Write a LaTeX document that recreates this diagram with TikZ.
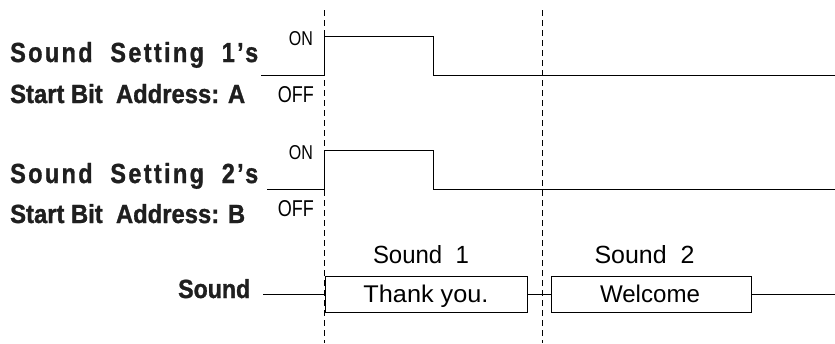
\documentclass[tikz,border=0pt]{standalone}
\usepackage{fontspec}
\setmainfont{Liberation Sans}
\newfontfamily\lblfont[FakeBold=1.2]{Liberation Sans Bold}
\usepackage{graphicx}
\newcommand{\fitbox}[3]{\resizebox{#1pt}{#2pt}{#3}}
\begin{document}
\begin{tikzpicture}[x=1pt,y=-1pt,
  sig/.style={line width=1.45pt},
  guide/.style={line width=1.4pt,dash pattern=on 6pt off 4pt},
  lbl/.style={inner sep=0pt,anchor=base west,text=black!88,font=\lblfont},
  thin/.style={inner sep=0pt,anchor=base east},
  thinc/.style={inner sep=0pt,anchor=base},
  sbox/.style={draw,line width=1.45pt,minimum height=36pt,inner sep=0pt,anchor=west}]
\useasboundingbox (0,0) rectangle (835,343);
% guides
\coordinate (g1t) at (324.5,10); \coordinate (g1b) at (324.5,343);
\coordinate (g2t) at (542.5,10); \coordinate (g2b) at (542.5,343);
\draw[guide] (g1t) -- (g1b);
\draw[guide] (g2t) -- (g2b);
% left labels
\node[lbl] (l1a) at (10,62) {\fitbox{248}{20}{\addfontfeatures{LetterSpace=10}Sound\ \ Setting\ \ 1’s}};
\node[lbl] (l1b) at (10,103) {\fitbox{235}{19}{Start Bit\ \ Address: A}};
\node[lbl] (l2a) at (10,183) {\fitbox{248}{20}{\addfontfeatures{LetterSpace=10}Sound\ \ Setting\ \ 2’s}};
\node[lbl] (l2b) at (10,223) {\fitbox{235}{19}{Start Bit\ \ Address: B}};
\node[lbl] (l3) at (178,298) {\fitbox{72}{19}{Sound}};
% ON/OFF
\node[thin] (on1) at (313,45) {\fitbox{24}{14}{ON}};
\node[thin] (off1) at (314,102) {\fitbox{36}{16}{OFF}};
\node[thin] (on2) at (313,159) {\fitbox{24}{14}{ON}};
\node[thin] (off2) at (314,216) {\fitbox{36}{16}{OFF}};
% signal 1
\coordinate (a0) at (261,75.5); \coordinate (a1) at (324.5,75.5); \coordinate (a2) at (324.5,36.5);
\coordinate (a3) at (433.5,36.5); \coordinate (a4) at (433.5,75.5); \coordinate (a5) at (835,75.5);
\draw[sig] (a0) -- (a1) -- (a2) -- (a3) -- (a4) -- (a5);
% signal 2
\coordinate (b0) at (267,189.5); \coordinate (b1) at (324.5,189.5); \coordinate (b2) at (324.5,150.5);
\coordinate (b3) at (433.5,150.5); \coordinate (b4) at (433.5,189.5); \coordinate (b5) at (835,189.5);
\draw[sig] (b0) -- (b1) -- (b2) -- (b3) -- (b4) -- (b5);
% sound boxes
\node[sbox,minimum width=202pt] (s1) at (324.5,294.5) {};
\node[sbox,minimum width=200pt] (s2) at (550.5,294.5) {};
\node[thinc] (t1) at (426,302) {\fitbox{125}{17.5}{Thank you.}};
\node[thinc] (t2) at (650,302) {\fitbox{100}{17.5}{Welcome}};
\node[thinc] (h1) at (421,263) {\fitbox{96}{18}{Sound\ \ 1}};
\node[thinc] (h2) at (644.5,263) {\fitbox{100}{18}{Sound\ \ 2}};
\coordinate (sl) at (263,294.5); \coordinate (sr) at (835,294.5);
\draw[sig] (sl) -- (s1.west);
\draw[sig] (s1.east) -- (s2.west);
\draw[sig] (s2.east) -- (sr);
\end{tikzpicture}
\end{document}
